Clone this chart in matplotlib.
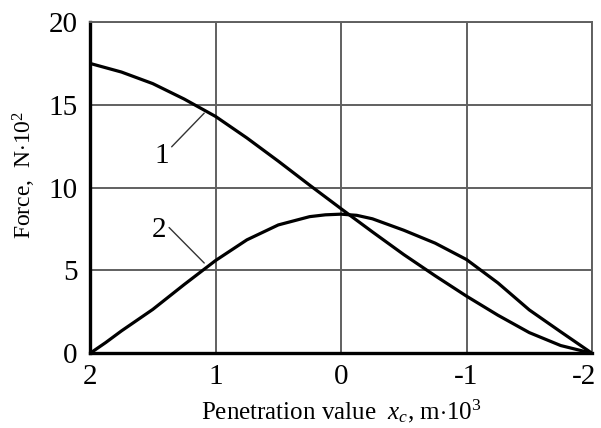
import matplotlib
matplotlib.use("Agg")
import matplotlib.pyplot as plt
from matplotlib.transforms import ScaledTranslation

plt.rcParams["font.family"] = ["Liberation Serif", "DejaVu Serif"]
plt.rcParams["mathtext.fontset"] = "custom"
plt.rcParams["mathtext.rm"] = "Liberation Serif"
plt.rcParams["mathtext.it"] = "Liberation Serif:italic"

# penetration value x_c, m*10^3 (axis runs from 2 down to -2)
x1 = [2.0, 1.75, 1.5, 1.25, 1.0, 0.75, 0.5, 0.25, 0.0, -0.25, -0.5, -0.75,
      -1.0, -1.25, -1.5, -1.75, -2.0]
force1 = [17.5, 16.98, 16.28, 15.35, 14.3, 13.0, 11.6, 10.15, 8.73, 7.33,
          5.96, 4.68, 3.45, 2.3, 1.25, 0.47, 0.0]
x2 = [2.0, 1.875, 1.75, 1.5, 1.25, 1.0, 0.75, 0.5, 0.25, 0.125, 0.0, -0.125,
      -0.25, -0.5, -0.75, -1.0, -1.25, -1.5, -1.75, -1.875, -2.0]
force2 = [0.0, 0.65, 1.35, 2.65, 4.15, 5.6, 6.85, 7.75, 8.25, 8.36, 8.4, 8.33,
          8.12, 7.43, 6.65, 5.66, 4.25, 2.62, 1.3, 0.65, 0.0]

x_ticks = [2, 1, 0, -1, -2]
y_ticks = [0, 5, 10, 15, 20]

fig = plt.figure(figsize=(6.01, 4.28), dpi=100)
ax = fig.add_axes([0.1498, 0.1745, 0.8353, 0.7741])

ax.plot(x1, force1, color="black", lw=2.3, zorder=3)
ax.plot(x2, force2, color="black", lw=2.3, zorder=3)

ax.set_xlim(2, -2)
ax.set_ylim(0, 20)
ax.set_xticks(x_ticks)
ax.set_yticks(y_ticks)
ax.set_xticklabels([str(v) for v in x_ticks])
ax.grid(True, color="#606060", lw=1.4)
ax.tick_params(length=0, labelsize=21)
ax.tick_params(axis="y", pad=9)
ax.tick_params(axis="x", pad=8)

# last x label sits a bit left of its grid line, as in the original
last = ax.get_xticklabels()[-1]
last.set_transform(last.get_transform() + ScaledTranslation(-6 / 72, 0, fig.dpi_scale_trans))

for side in ("top", "right"):
    ax.spines[side].set_color("#606060")
    ax.spines[side].set_linewidth(1.4)
for side in ("left", "bottom"):
    ax.spines[side].set_color("black")
    ax.spines[side].set_linewidth(2.4)

# curve numbers with leader lines
ax.annotate("1", xy=(1.09, 14.5), xytext=(1.43, 11.9), fontsize=21,
            ha="center", va="center",
            arrowprops=dict(arrowstyle="-", color="#333333", lw=1.0,
                            shrinkA=0, shrinkB=0, relpos=(1.0, 0.75)))
ax.annotate("2", xy=(1.09, 5.45), xytext=(1.45, 7.45), fontsize=21,
            ha="center", va="center",
            arrowprops=dict(arrowstyle="-", color="#333333", lw=1.0,
                            shrinkA=0, shrinkB=0, relpos=(1.0, 0.7)))

ax.set_ylabel(r"Force,  N$\cdot$10$^2$", fontsize=17)
ax.yaxis.set_label_coords(-0.104, 0.54)
ax.set_xlabel(r"Penetration value  $x_c$, m$\cdot$10$^3$", fontsize=18, labelpad=5)

fig.savefig("out.png", dpi=100)
